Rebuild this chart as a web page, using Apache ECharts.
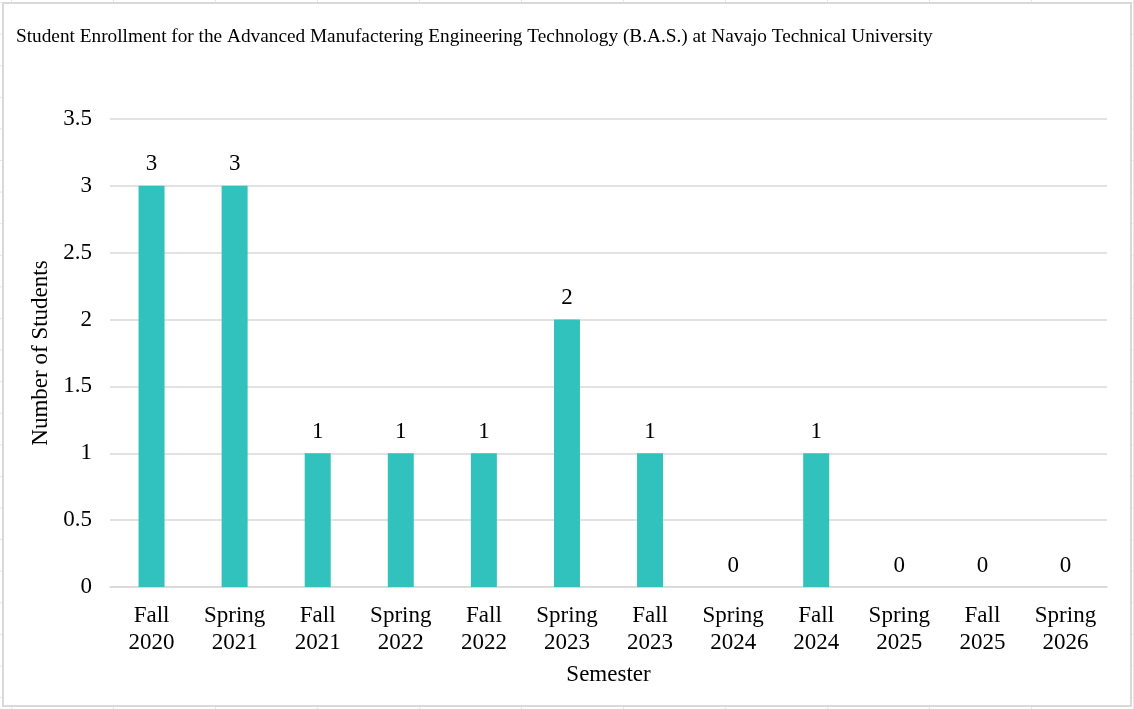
<!DOCTYPE html>
<html>
<head>
<meta charset="utf-8">
<script src="https://cdn.jsdelivr.net/npm/echarts@6/dist/echarts.min.js"></script>
<style>
html,body{margin:0;padding:0;width:1134px;height:709px;overflow:hidden;background:#fff;}
#wrap{position:absolute;left:0;top:0;width:1134px;height:709px;
 background-image:linear-gradient(to right,#e6e6e6 1px,transparent 1px),linear-gradient(to bottom,#e6e6e6 1px,transparent 1px);
 background-size:102px 31.6px;background-position:11px 2px;}
#chart{position:absolute;left:2px;top:2px;width:1126px;height:701px;background:#fff;border:2px solid #d9d9d9;}
</style>
</head>
<body>
<div id="wrap"></div>
<div id="chart"></div>
<script>
const title = 'Student Enrollment for the Advanced Manufactering Engineering Technology (B.A.S.) at Navajo Technical University';
const categories = ['Fall\n2020','Spring\n2021','Fall\n2021','Spring\n2022','Fall\n2022','Spring\n2023','Fall\n2023','Spring\n2024','Fall\n2024','Spring\n2025','Fall\n2025','Spring\n2026'];
const students = [3,3,1,1,1,2,1,0,1,0,0,0];
const xName = 'Semester';
const yName = 'Number of Students';

const chart = echarts.init(document.getElementById('chart'));
const serif = '"Liberation Serif","Times New Roman",serif';
chart.setOption({
  animation:false,
  textStyle:{fontFamily:serif,color:'#000'},
  title:{text:title,left:7,top:18,textStyle:{fontFamily:serif,fontSize:19.3,fontWeight:'normal',color:'#000'}},
  grid:{left:106,right:23,top:115,bottom:118},
  xAxis:{type:'category',data:categories,name:xName,nameLocation:'middle',nameGap:76,
    nameTextStyle:{fontFamily:serif,fontSize:23,color:'#000'},
    axisLine:{lineStyle:{color:'#d9d9d9',width:1.5}},axisTick:{show:false},
    axisLabel:{fontFamily:serif,fontSize:23,color:'#000',margin:15,lineHeight:27,interval:0}},
  yAxis:{type:'value',min:0,max:3.5,interval:0.5,name:yName,nameLocation:'middle',nameGap:54,
    nameTextStyle:{fontFamily:serif,fontSize:23,color:'#000'},
    axisLine:{show:false},axisTick:{show:false},
    axisLabel:{fontFamily:serif,fontSize:23,color:'#000',margin:18},
    splitLine:{lineStyle:{color:'#d9d9d9',width:1.5}}},
  series:[{type:'bar',data:students,barWidth:26,itemStyle:{color:'#31C2BE'},
    label:{show:true,position:'top',distance:10,fontFamily:serif,fontSize:23,color:'#000'}}]
});
</script>
</body>
</html>
